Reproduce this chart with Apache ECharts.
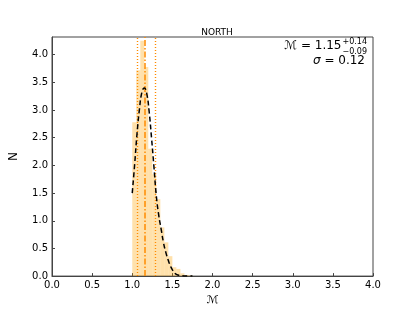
<!DOCTYPE html>
<html><head><meta charset="utf-8">
<script src="https://cdn.jsdelivr.net/npm/echarts@6/dist/echarts.min.js"></script>
<style>html,body{margin:0;padding:0;background:#fff}#c{width:415px;height:311px}</style>
</head><body><div id="c"></div>
<script>
// Histogram bins (left edge, right edge) and densities
const binEdges = [1.00,1.05,1.10,1.15,1.20,1.25,1.30,1.35,1.40,1.45,1.50,1.55,1.60,1.65,1.70,1.75];
const binHeights = [2.78,3.72,4.25,3.78,2.30,1.84,1.39,0.88,0.61,0.36,0.16,0.13,0.05,0.02,0.01];
// Fitted curve
const fitX = [1.00,1.03,1.06,1.09,1.12,1.15,1.18,1.21,1.24,1.27,1.30,1.33,1.36,1.39,1.42,1.45,1.48,1.51,1.54,1.57,1.60,1.65,1.70,1.75];
const fitY = [1.50,2.02,2.58,3.02,3.32,3.40,3.30,2.98,2.50,1.98,1.45,1.10,0.85,0.60,0.42,0.28,0.17,0.09,0.04,0.02,0.01,0.003,0.001,0.0];
// Median and credible interval
const median = 1.15, lower = 1.06, upper = 1.29, sigma = 0.12;
const xTicks = [0,0.5,1,1.5,2,2.5,3,3.5,4];
const yTicks = [0,0.5,1,1.5,2,2.5,3,3.5,4];

const histData = binHeights.map((h,i)=>[binEdges[i], binEdges[i+1], h]);
const fitData = fitX.map((x,i)=>[x, fitY[i]]);
const font = 'DejaVu Sans';
const orange = '#ff8c00';

const chart = echarts.init(document.getElementById('c'), null, {renderer:'canvas'});
chart.setOption({
  animation:false,
  title:{text:'NORTH', left:212, top:23, textAlign:'center', textStyle:{fontFamily:font, fontSize:9, fontWeight:'normal', color:'#000'}},
  grid:{left:52, right:42, top:37, bottom:34, show:true, borderColor:'#444', borderWidth:1},
  xAxis:{type:'value', min:0, max:4, interval:0.5,
    name:'ℳ', nameLocation:'middle', nameGap:15, nameTextStyle:{fontFamily:font, fontSize:11, color:'#000'},
    axisLine:{show:true, lineStyle:{color:'#444'}}, axisTick:{inside:true, length:3, lineStyle:{color:'#444'}},
    splitLine:{show:false},
    axisLabel:{fontFamily:font, fontSize:10, color:'#000', margin:4, formatter:v=>xTicks.includes(+v.toFixed(2))?v.toFixed(1):''}},
  yAxis:{type:'value', min:0, max:4.32, interval:0.5,
    name:'N', nameLocation:'middle', nameGap:32, nameRotate:90, nameTextStyle:{fontFamily:font, fontSize:12, color:'#000'},
    axisLine:{show:true, lineStyle:{color:'#444'}}, axisTick:{inside:true, length:3, lineStyle:{color:'#444'}},
    splitLine:{show:false},
    axisLabel:{fontFamily:font, fontSize:10, color:'#000', margin:4, showMaxLabel:false, formatter:v=>yTicks.includes(+v.toFixed(2))?v.toFixed(1):''}},
  series:[
    {type:'custom', data:histData, z:1,
     renderItem:(params, api)=>{
       const p0 = api.coord([api.value(0), api.value(2)]);
       const p1 = api.coord([api.value(1), 0]);
       return {type:'rect', shape:{x:p0[0], y:p0[1], width:p1[0]-p0[0], height:p1[1]-p0[1]},
         style:{fill:'rgba(255,165,0,0.33)'}};
     }},
    {type:'line', data:fitData, smooth:true, symbol:'none', z:5,
     lineStyle:{color:'#000', width:1.5, type:[5,3]}},
    {type:'line', data:[], symbol:'none', z:4, color:orange,
     markLine:{symbol:'none', silent:true, label:{show:false},
       lineStyle:{color:orange, width:1.4, type:[1.2,1.8], opacity:1},
       data:[
         {xAxis:lower},
         {xAxis:upper},
         {xAxis:median, lineStyle:{color:orange, width:1.5, type:[6,2,1.5,2]}}
       ]}}
  ]
});
// annotation text
const z = chart.getZr();
const txt1 = new echarts.graphic.Text({style:{text:'ℳ = '+median.toFixed(2), x:286, y:40, font:'12px DejaVu Sans', fill:'#000'}, z:100});
const sup = new echarts.graphic.Text({style:{text:'+'+(upper-median).toFixed(2), x:0, y:38, font:'8px DejaVu Sans', fill:'#000'}, z:100});
const sub = new echarts.graphic.Text({style:{text:'−'+(median-lower).toFixed(2), x:0, y:48, font:'8px DejaVu Sans', fill:'#000'}, z:100});
const txt2 = new echarts.graphic.Text({style:{x:365, y:55, align:'right',
  text:'{i|σ} = '+sigma.toFixed(2), font:'12px DejaVu Sans', fill:'#000',
  rich:{i:{fontFamily:font, fontSize:12, fontStyle:'italic', fill:'#000'}}}, z:100});
z.add(txt1); z.add(sup); z.add(sub); z.add(txt2);
const w1 = txt1.getBoundingRect().width;
const ws = Math.max(sup.getBoundingRect().width, sub.getBoundingRect().width);
const startX = 366 - w1 - ws;
txt1.attr('style', {x:startX});
sup.attr('style', {x:startX + w1 + 1});
sub.attr('style', {x:startX + w1 + 1});
</script></body></html>
